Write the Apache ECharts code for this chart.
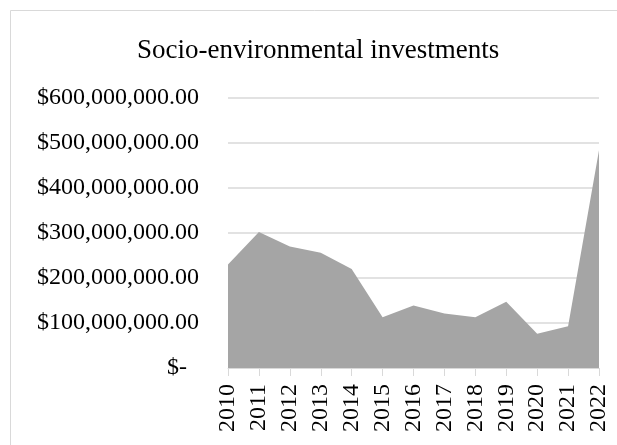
<!DOCTYPE html>
<html>
<head>
<meta charset="utf-8">
<script src="https://cdn.jsdelivr.net/npm/echarts@6/dist/echarts.min.js"></script>
<style>
  html, body { margin: 0; padding: 0; background: #fff; }
  #chart { width: 617px; height: 445px; }
</style>
</head>
<body>
<div id="chart"></div>
<script>
const years = ['2010', '2011', '2012', '2013', '2014', '2015', '2016', '2017', '2018', '2019', '2020', '2021', '2022'];
const investments = [230e6, 302e6, 270e6, 256e6, 220e6, 113e6, 139e6, 121e6, 113e6, 147e6, 76e6, 93e6, 484e6];
const yTicks = [0, 100e6, 200e6, 300e6, 400e6, 500e6, 600e6];

const font = '"Liberation Serif", "Times New Roman", serif';

function money(v) {
  if (v === 0) return '$-  ';
  return '$' + v.toLocaleString('en-US', { minimumFractionDigits: 2, maximumFractionDigits: 2 });
}

const chart = echarts.init(document.getElementById('chart'), null, { renderer: 'canvas' });

chart.setOption({
  backgroundColor: '#fff',
  animation: false,
  graphic: [{
    type: 'rect',
    shape: { x: 10.5, y: 10.5, width: 620, height: 450 },
    style: { fill: 'none', stroke: '#d9d9d9', lineWidth: 1 },
    silent: true
  }],
  title: {
    text: 'Socio-environmental investments',
    left: 137,
    top: 37,
    padding: 0,
    textStyle: { fontFamily: font, fontSize: 27, fontWeight: 'normal', color: '#000' }
  },
  grid: { left: 228, right: 18, top: 98, bottom: 77, containLabel: false },
  xAxis: {
    type: 'category',
    data: years,
    boundaryGap: false,
    axisLine: { lineStyle: { color: '#d9d9d9', width: 1 } },
    axisTick: { length: 8, lineStyle: { color: '#d9d9d9' } },
    axisLabel: { rotate: 90, interval: 0, margin: 16, fontFamily: font, fontSize: 24, color: '#000' },
    splitLine: { show: false }
  },
  yAxis: {
    type: 'value',
    min: yTicks[0],
    max: yTicks[yTicks.length - 1],
    interval: 100e6,
    axisLine: { show: false },
    axisTick: { show: false },
    axisLabel: { margin: 29, fontFamily: font, fontSize: 24, color: '#000', formatter: money },
    splitLine: { lineStyle: { color: '#d9d9d9', width: 1.5 } }
  },
  series: [{
    type: 'line',
    data: investments,
    symbol: 'none',
    lineStyle: { width: 0 },
    areaStyle: { color: '#a5a5a5', opacity: 1 }
  }]
});
</script>
</body>
</html>
